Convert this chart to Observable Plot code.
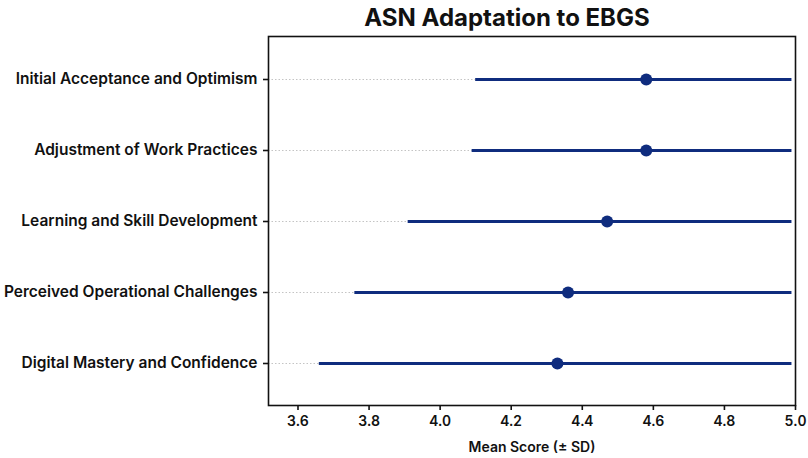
<!DOCTYPE html>
<html>
<head>
<meta charset="utf-8">
<script src="https://cdn.jsdelivr.net/npm/d3@7"></script>
<script src="https://cdn.jsdelivr.net/npm/@observablehq/plot@0.6"></script>
<style>
  html, body { margin: 0; padding: 0; background: #fff; }
  #chart svg { font-family: Inter, "Liberation Sans", sans-serif; }
</style>
</head>
<body>
<div id="chart"></div>
<script>
const chartTitle = "ASN Adaptation to EBGS";
const xLabel = "Mean Score (± SD)";
const categories = [
  "Initial Acceptance and Optimism",
  "Adjustment of Work Practices",
  "Learning and Skill Development",
  "Perceived Operational Challenges",
  "Digital Mastery and Confidence"
];
const means = [4.58, 4.58, 4.47, 4.36, 4.33];
const lowers = [4.10, 4.09, 3.91, 3.76, 3.66];
const uppers = [4.99, 4.99, 4.99, 4.99, 4.99];
const xTicks = [3.6, 3.8, 4.0, 4.2, 4.4, 4.6, 4.8, 5.0];
const xMin = 3.517, xMax = 5.0;

const data = categories.map((c, i) => ({
  cat: c,
  mean: means[i],
  lo: lowers[i],
  hi: uppers[i]
}));

const navy = "#0f2c7e";

const plot = Plot.plot({
  width: 808,
  height: 458,
  marginLeft: 268,
  marginRight: 13,
  marginTop: 36,
  marginBottom: 53,
  style: { fontSize: "14px", fontWeight: 600, color: "#111", background: "#fff" },
  x: { domain: [xMin, xMax] },
  y: { type: "point", domain: categories, padding: 0.57 },
  marks: [
    Plot.ruleY(data, { y: "cat", x1: xMin, x2: "lo", stroke: "#c4c4c4", strokeWidth: 1, strokeDasharray: "1.5,2" }),
    Plot.ruleY(data, { y: "cat", x1: "lo", x2: "hi", stroke: navy, strokeWidth: 3 }),
    Plot.dot(data, { y: "cat", x: "mean", r: 6, fill: navy, stroke: "none" }),
    Plot.frame({ stroke: "#111", strokeWidth: 1.6 }),
    Plot.axisX({ ticks: xTicks, tickFormat: d3.format(".1f"), tickSize: 5, tickPadding: 6, strokeWidth: 1.6, fontSize: 14, fontWeight: 600, label: xLabel, labelAnchor: "center", labelArrow: "none", labelOffset: 46 }),
    Plot.axisY({ tickSize: 5, tickPadding: 6, strokeWidth: 1.6, fontSize: 15.5, fontWeight: 600, label: null }),
    Plot.text([chartTitle], { frameAnchor: "top", lineAnchor: "middle", dx: -25, dy: -18, text: d => d, fontSize: 24, fontWeight: 700, fill: "#111" })
  ]
});
document.getElementById("chart").appendChild(plot);
</script>
</body>
</html>
